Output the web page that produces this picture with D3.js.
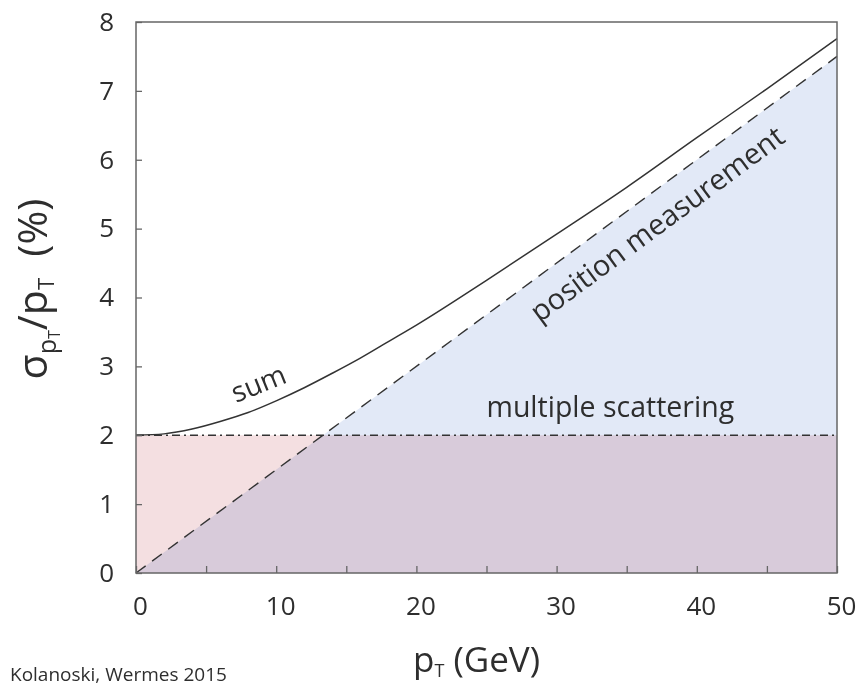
<!DOCTYPE html>
<html lang="en">
<head>
<meta charset="utf-8">
<script src="https://d3js.org/d3.v7.min.js"></script>
<style>
  body { margin: 0; background: #fff; }
  text { font-family: "Open Sans", "Noto Sans", sans-serif; fill: #2e2e2e; }
</style>
</head>
<body>
<div id="chart"></div>
<script>
// values (pT in GeV, resolution in %)
var sumPt   = [0, 2, 4, 6, 8, 10, 12, 14, 16, 18, 20, 25, 30, 35, 40, 45, 50];
var sumVal  = [2.0, 2.02, 2.09, 2.2, 2.33, 2.5, 2.69, 2.9, 3.12, 3.36, 3.6, 4.25, 4.92, 5.6, 6.32, 7.03, 7.76];
var posPt   = [0, 50];
var posVal  = [0, 7.5];
var msPt    = [0, 50];
var msVal   = [2, 2];
var xTicks  = [0, 5, 10, 15, 20, 25, 30, 35, 40, 45, 50];
var yTicks  = [0, 1, 2, 3, 4, 5, 6, 7, 8];

var margin = {top: 22, right: 23, bottom: 113, left: 136},
    width = 860 - margin.left - margin.right,
    height = 686 - margin.top - margin.bottom;

var svg = d3.select("#chart")
  .append("svg")
    .attr("width", 860)
    .attr("height", 686)
  .append("g")
    .attr("transform", "translate(" + margin.left + "," + margin.top + ")");

var x = d3.scaleLinear().domain([0, 50]).range([0, width]);
var y = d3.scaleLinear().domain([0, 8]).range([height, 0]);

function pts(px, py) {
  return px.map(function(d, i) { return [d, py[i]]; });
}
var sumData = pts(sumPt, sumVal),
    posData = pts(posPt, posVal),
    msData  = pts(msPt, msVal);

var area = d3.area()
  .x(function(d) { return x(d[0]); })
  .y0(y(0))
  .y1(function(d) { return y(d[1]); });

var line = d3.line()
  .x(function(d) { return x(d[0]); })
  .y(function(d) { return y(d[1]); });

// shaded areas
svg.append("path").datum(msData).attr("d", area).attr("fill", "#f4dfe1");
svg.append("path").datum(posData).attr("d", area).attr("fill", "#e2e9f7")
  .style("mix-blend-mode", "multiply");

// curves
svg.append("path").datum(msData).attr("d", line)
  .attr("fill", "none").attr("stroke", "#333").attr("stroke-width", 1.4)
  .attr("stroke-dasharray", "8,4,2,4");
svg.append("path").datum(posData).attr("d", line)
  .attr("fill", "none").attr("stroke", "#333").attr("stroke-width", 1.4)
  .attr("stroke-dasharray", "12,8");
svg.append("path").datum(sumData).attr("d", line.curve(d3.curveMonotoneX))
  .attr("fill", "none").attr("stroke", "#333").attr("stroke-width", 1.5);

// axes
var xAxis = svg.append("g")
  .attr("transform", "translate(0," + height + ")")
  .call(d3.axisBottom(x).tickValues(xTicks).tickSize(-7).tickPadding(24)
    .tickFormat(function(d) { return d % 10 === 0 ? d : ""; }));
xAxis.selectAll("text").attr("dx", 4);

var yAxis = svg.append("g")
  .call(d3.axisLeft(y).tickValues(yTicks).tickSize(-6).tickPadding(22));

[xAxis, yAxis].forEach(function(a) {
  a.select(".domain").remove();
  a.selectAll("line").attr("stroke", "#666").attr("stroke-width", 1.3);
  a.selectAll("text").style("font-family", "Open Sans").style("font-size", "26px")
    .attr("fill", "#2e2e2e");
});

// frame
svg.append("rect")
  .attr("width", width).attr("height", height)
  .attr("fill", "none").attr("stroke", "#666").attr("stroke-width", 1.5);

// curve labels
svg.append("text")
  .attr("transform", "translate(" + (x(9.0)) + "," + (y(2.62)) + ") rotate(-22)")
  .attr("text-anchor", "middle").style("font-size", "28px").text("sum");

svg.append("text")
  .attr("x", x(25)).attr("y", y(2) - 18)
  .style("font-size", "28.5px").text("multiple scattering");

svg.append("text")
  .attr("transform", "translate(" + x(37.6) + "," + y(4.95) + ") rotate(-36.4)")
  .attr("text-anchor", "middle").style("font-size", "29px").text("position measurement");

// axis titles
var xt = svg.append("text")
  .attr("x", 413 - margin.left).attr("y", 672 - margin.top)
  .style("font-size", "35px");
xt.append("tspan").text("p");
xt.append("tspan").attr("dy", 5).style("font-size", "18px").text("T");
xt.append("tspan").attr("dy", -5).text(" (GeV)");

var yt = svg.append("text")
  .attr("transform", "translate(" + (47 - margin.left) + "," + (289 - margin.top) + ") rotate(-90)")
  .attr("text-anchor", "middle")
  .style("font-size", "41px");
yt.append("tspan").text("σ");
yt.append("tspan").attr("dy", 9).style("font-size", "25px").text("p");
yt.append("tspan").attr("dy", 4).style("font-size", "16px").text("T");
yt.append("tspan").attr("dy", -13).text("/p");
yt.append("tspan").attr("dy", 7).style("font-size", "22px").text("T");
yt.append("tspan").attr("dy", -7).text("\u00a0\u00a0(%)");

// credit line
svg.append("text")
  .attr("x", 10 - margin.left).attr("y", 681 - margin.top)
  .style("font-size", "19px").text("Kolanoski, Wermes 2015");
</script>
</body>
</html>
